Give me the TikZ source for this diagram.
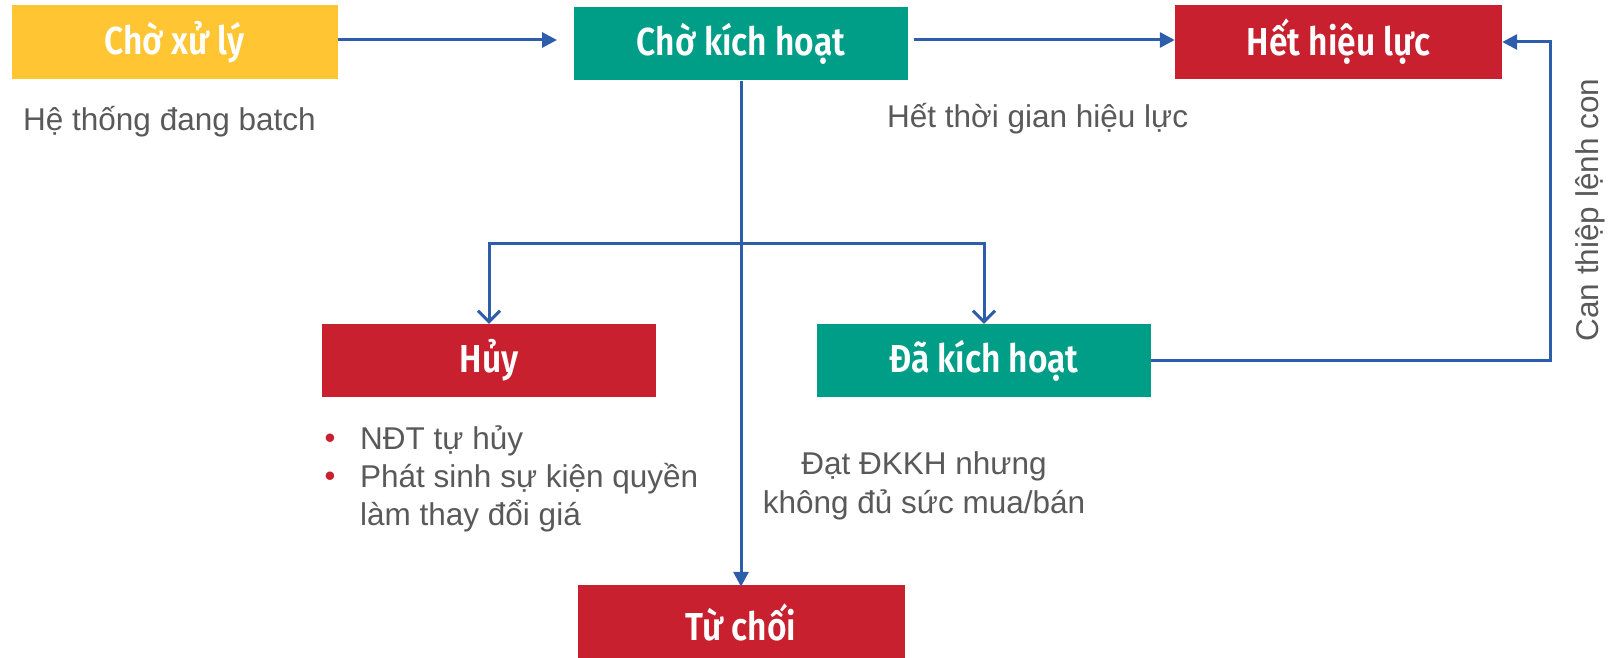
\documentclass[tikz,border=0pt]{standalone}
\usepackage{fontspec}
\setmainfont{Liberation Sans}
\newfontfamily\titlefont[FakeStretch=0.86,BoldFont={Fira Sans SemiBold}]{Fira Sans}
\usetikzlibrary{arrows.meta,positioning}
\definecolor{cyellow}{HTML}{FFC532}
\definecolor{cteal}{HTML}{009E87}
\definecolor{cred}{HTML}{C8202F}
\definecolor{cblue}{HTML}{2E5EAA}
\definecolor{cgray}{HTML}{595959}
\tikzset{
  statebox/.style={minimum width=330pt,minimum height=73pt,inner sep=0pt,text=white,
    font=\titlefont\bfseries\fontsize{39}{42}\selectfont},
  note/.style={text=cgray,font=\fontsize{31.5}{39}\selectfont,inner sep=0pt},
  conn/.style={draw=cblue,line width=3pt},
  filltip/.style={conn,-{Triangle[length=15pt,width=15pt]}},
  opentip/.style={conn,-{Straight Barb[length=11pt,width=22pt,line width=3pt]}}
}
\begin{document}
\begin{tikzpicture}[x=1pt,y=-1pt]
\useasboundingbox (0,0) rectangle (1614,658);
\node[statebox,fill=cyellow,minimum width=326pt,minimum height=74pt] (cxl) at (174.5,42) {Chờ xử lý};
\node[statebox,fill=cteal,minimum width=334pt,minimum height=73pt] (ckh) at (741,44) {Chờ kích hoạt};
\node[statebox,fill=cred,minimum width=327pt,minimum height=74pt] (hhl) at (1338.5,42) {Hết hiệu lực};
\node[statebox,fill=cred,minimum width=334pt,minimum height=73pt] (huy) at (489,360.5) {Hủy};
\node[statebox,fill=cteal,minimum width=334pt,minimum height=73pt] (dkh) at (984,360.5) {Đã kích hoạt};
\node[statebox,fill=cred,minimum width=327pt,minimum height=74pt] (tc) at (741,622) {Từ chối};

\node[note,anchor=west] (n1) at (23,122) {Hệ thống đang batch};
\node[note,anchor=west] (n2) at (887,119) {Hết thời gian hiệu lực};
\node[note,rotate=90] (n3) at (1590,210) {Can thiệp lệnh con};
\node[note,anchor=west] (b1) at (360,441) {NĐT tự hủy};
\node[note,anchor=west] (b2) at (360,479) {Phát sinh sự kiện quyền};
\node[note,anchor=west] (b3) at (360,516) {làm thay đổi giá};
\node[text=cred,font=\fontsize{31}{39}\selectfont,inner sep=0pt] (d1) at (330,441) {•};
\node[text=cred,font=\fontsize{31}{39}\selectfont,inner sep=0pt] (d2) at (330,479) {•};
\node[note,align=center] (n4) at (924,486) {Đạt ĐKKH nhưng\\không đủ sức mua/bán};

\coordinate (a1s) at (337.5,40);
\coordinate (a1e) at (557,40);
\draw[filltip] (a1s) -- (a1e);
\coordinate (a2s) at (914,40);
\draw[filltip] (a2s) -- (hhl.west |- a2s);
\coordinate (br) at (741,243);
\draw[filltip] (ckh.south) -- ([yshift=-2pt]tc.north);
\draw[opentip] (br) -| (huy.north);
\draw[opentip] (br) -| (dkh.north);
\coordinate (rt) at (1550,42);
\draw[filltip] (dkh.east) -| (rt) -- (hhl.east);
\end{tikzpicture}
\end{document}
